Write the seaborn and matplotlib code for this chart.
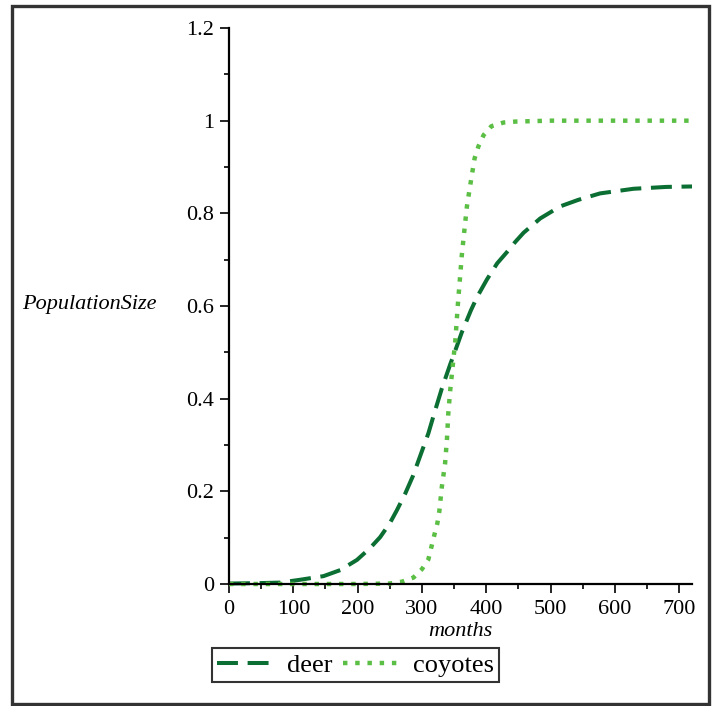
import numpy as np
import pandas as pd
import matplotlib
matplotlib.use("Agg")
import matplotlib.pyplot as plt
import matplotlib.ticker as mticker
from matplotlib.patches import Rectangle
import seaborn as sns

# ---- data ----
months_deer = [0, 50, 79, 110, 147, 173, 199, 219, 235, 250, 261, 274, 286, 310,
               320, 331, 344, 354, 362, 376, 386, 401, 417, 432, 445, 458, 484,
               515, 543, 577, 629, 680, 720]
deer = [0.001, 0.002, 0.003, 0.009, 0.017, 0.030, 0.052, 0.077, 0.101, 0.131, 0.159,
        0.195, 0.233, 0.325, 0.372, 0.422, 0.474, 0.512, 0.543, 0.590, 0.620, 0.657,
        0.692, 0.716, 0.738, 0.758, 0.789, 0.815, 0.829, 0.843, 0.853, 0.857, 0.858]

months_coy = [0, 100, 200, 250, 269, 287, 300, 310, 319, 324, 327, 331, 336, 339,
              341, 344, 348, 352, 356, 359, 362, 366, 370, 373, 376, 379, 382, 388,
              396, 408, 427, 445, 500, 600, 720]
coyotes = [0, 0, 0, 0.001, 0.005, 0.014, 0.032, 0.053, 0.104, 0.131, 0.156, 0.21,
           0.26, 0.314, 0.368, 0.418, 0.472, 0.526, 0.605, 0.657, 0.709, 0.763, 0.815,
           0.842, 0.868, 0.894, 0.919, 0.945, 0.969, 0.988, 0.996, 0.998, 1.0, 1.0, 1.0]

series_names = ["deer", "coyotes"]
x_ticks = [0, 100, 200, 300, 400, 500, 600, 700]
y_ticks = [0, 0.2, 0.4, 0.6, 0.8, 1.0, 1.2]

df_deer = pd.DataFrame({"months": months_deer, "PopulationSize": deer})
df_coy = pd.DataFrame({"months": months_coy, "PopulationSize": coyotes})

plt.rcParams["font.family"] = ["Liberation Serif", "DejaVu Serif"]

W, H = 717, 706
fig = plt.figure(figsize=(W / 100, H / 100), dpi=100)
ax = fig.add_axes([229 / W, (H - 584) / H, 463 / W, 556 / H])

deer_color = "#0b6e32"
coy_color = "#5cbf45"

sns.lineplot(data=df_deer, x="months", y="PopulationSize", ax=ax, color=deer_color,
             linewidth=2.9, linestyle=(0, (5.2, 2.4)), label=series_names[0],
             sort=False, estimator=None, clip_on=False)
sns.lineplot(data=df_coy, x="months", y="PopulationSize", ax=ax, color=coy_color,
             linewidth=3.2, linestyle=(0, (1.0, 1.75)), label=series_names[1],
             sort=False, estimator=None, clip_on=False)

ax.set_xlim(0, 720)
ax.set_ylim(0, 1.2)

for s in ["top", "right"]:
    ax.spines[s].set_visible(False)
for s in ["left", "bottom"]:
    ax.spines[s].set_linewidth(1.6)
    ax.spines[s].set_color("black")

ax.set_xticks(x_ticks)
ax.set_yticks(y_ticks)
ax.xaxis.set_minor_locator(mticker.MultipleLocator(50))
ax.yaxis.set_minor_locator(mticker.MultipleLocator(0.1))
ax.xaxis.set_major_formatter(mticker.FormatStrFormatter("%g"))
ax.yaxis.set_major_formatter(mticker.FormatStrFormatter("%g"))
ax.tick_params(axis="both", which="major", length=6.5, width=1.2, labelsize=16,
               direction="out", color="black")
ax.tick_params(axis="both", which="minor", length=3.5, width=1.2, direction="out")
ax.tick_params(axis="y", which="major", pad=4)
ax.tick_params(axis="x", which="major", pad=5)

ax.set_xlabel("months", fontsize=16, style="italic", labelpad=2)
ax.set_ylabel("PopulationSize", fontsize=16, style="italic", rotation=0,
              ha="left", va="center")
ax.yaxis.set_label_coords((22 - 229) / 463, 0.503)

if ax.legend_ is not None:
    ax.legend_.remove()
leg = fig.legend(handles=ax.lines[:2], labels=series_names, ncol=2,
                 loc="upper left", bbox_to_anchor=(212 / W, 1 - 648 / H),
                 fontsize=19, frameon=True, fancybox=False, shadow=False,
                 handlelength=2.3, handletextpad=0.35, columnspacing=0.4,
                 borderpad=0.2, borderaxespad=0)
leg.get_frame().set_edgecolor("black")
leg.get_frame().set_linewidth(1.5)

fig.patches.append(Rectangle((11.5 / W, 2 / H), (709 - 11.5) / W, (704 - 5.5) / H,
                             transform=fig.transFigure, fill=False,
                             edgecolor="#333333", linewidth=2.4))

fig.savefig("out.png", dpi=100)
